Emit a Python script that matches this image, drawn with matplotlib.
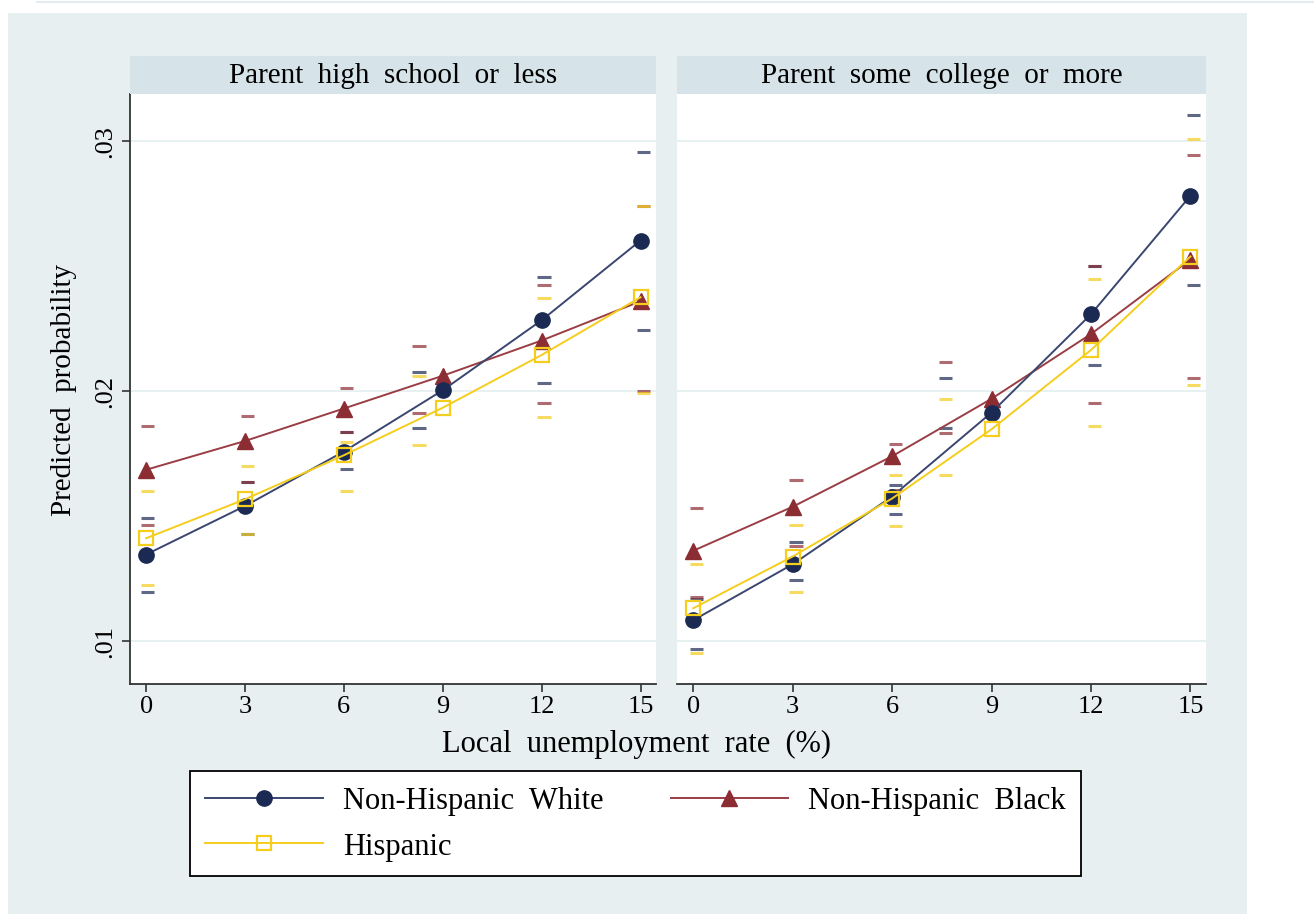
import numpy as np
import matplotlib
matplotlib.use("Agg")
from matplotlib import pyplot as plt
from matplotlib.patches import Rectangle

plt.rcParams['font.family'] = ['Liberation Serif', 'DejaVu Serif']

# data
rate = [0, 3, 6, 9, 12, 15]
panels = ["Parent  high  school  or  less", "Parent  some  college  or  more"]
groups = ["Non-Hispanic  White", "Non-Hispanic  Black", "Hispanic"]

# means, one list per group, for each panel
white_hs = [0.01346, 0.01540, 0.01758, 0.02003, 0.02283, 0.02602]
black_hs = [0.01685, 0.01800, 0.01930, 0.02061, 0.02202, 0.02359]
hisp_hs = [0.01411, 0.01567, 0.01743, 0.01933, 0.02144, 0.02375]
white_col = [0.01083, 0.01307, 0.01578, 0.01914, 0.02307, 0.02781]
black_col = [0.01361, 0.01537, 0.01739, 0.01969, 0.02228, 0.02526]
hisp_col = [0.01131, 0.01338, 0.01570, 0.01847, 0.02164, 0.02538]

# confidence interval caps (upper / lower)
white_hs_hi = [0.01494, 0.01636, 0.01835, 0.02075, 0.02457, 0.02956]
white_hs_lo = [0.01196, 0.01427, 0.01690, 0.01853, 0.02031, 0.02246]
black_hs_hi = [0.01861, 0.01899, 0.02011, 0.02179, 0.02424, 0.02742]
black_hs_lo = [0.01465, 0.01636, 0.01835, 0.01911, 0.01953, 0.02002]
hisp_hs_hi = [0.01602, 0.01702, 0.01797, 0.02060, 0.02372, 0.02742]
hisp_hs_lo = [0.01223, 0.01427, 0.01601, 0.01784, 0.01896, 0.01993]
white_col_hi = [0.01170, 0.01396, 0.01624, 0.02054, 0.02500, 0.03104]
white_col_lo = [0.00968, 0.01243, 0.01509, 0.01853, 0.02104, 0.02425]
black_col_hi = [0.01534, 0.01644, 0.01789, 0.02118, 0.02500, 0.02943]
black_col_lo = [0.01178, 0.01381, 0.01606, 0.01832, 0.01953, 0.02054]
hisp_col_hi = [0.01307, 0.01465, 0.01664, 0.01969, 0.02448, 0.03009]
hisp_col_lo = [0.00953, 0.01196, 0.01460, 0.01664, 0.01861, 0.02026]

# where the caps sit on the x axis (the original plot has them shifted)
cap_x_hs = [0.05, 3.07, 6.07, 8.28, 12.07, 15.08]
cap_x_col = [0.09, 3.1, 6.1, 7.6, 12.1, 15.1]

colors = ['#1b2a52', '#8c2d33', '#f5cd1c']
bg = '#e8eff1'
strip_bg = '#d6e3e8'

W, H = 1314, 920
fig = plt.figure(figsize=(W / 100, H / 100), dpi=100)
fig.patch.set_facecolor('white')

def px(x0, y0, x1, y1):
    # pixel box (top-left origin) -> figure fraction rect
    return [x0 / W, 1 - y1 / H, (x1 - x0) / W, (y1 - y0) / H]

# background panel
fig.patches.append(Rectangle((8 / W, 1 - 915 / H), (1247 - 8) / W, (915 - 14) / H,
                             transform=fig.transFigure, facecolor=bg, edgecolor='none', zorder=-5))
fig.lines.append(plt.Line2D([37 / W, 1], [1 - 3 / H, 1 - 3 / H], transform=fig.transFigure,
                            color='#e3ecee', lw=1.5, zorder=-5))

panel_data = [
    (white_hs, black_hs, hisp_hs, white_hs_hi, white_hs_lo, black_hs_hi, black_hs_lo,
     hisp_hs_hi, hisp_hs_lo, cap_x_hs),
    (white_col, black_col, hisp_col, white_col_hi, white_col_lo, black_col_hi, black_col_lo,
     hisp_col_hi, hisp_col_lo, cap_x_col),
]
boxes = [(130, 95, 656, 685), (677, 95, 1206, 685)]

handles = []
for i, (box, title, pdat) in enumerate(zip(boxes, panels, panel_data)):
    wm, bm, hm, whi, wlo, bhi, blo, hhi, hlo, cx = pdat
    ax = fig.add_axes(px(*box))
    ax.set_xlim(-0.49, 15.47)
    ax.set_ylim(0.00828, 0.03188)
    ax.set_facecolor('white')

    for yv in [0.01, 0.02, 0.03]:
        ax.axhline(yv, color='#e6f0f1', lw=1.3, zorder=1)

    cx = np.array(cx)
    for hi, lo, c in [(whi, wlo, colors[0]), (bhi, blo, colors[1]), (hhi, hlo, colors[2])]:
        ax.hlines(hi, cx - 0.2, cx + 0.2, color=c, lw=2.2, alpha=0.7, zorder=2)
        ax.hlines(lo, cx - 0.2, cx + 0.2, color=c, lw=2.2, alpha=0.7, zorder=2)

    l1, = ax.plot(rate, wm, color='#3a4670', lw=1.4, marker='o', ms=11,
                  mfc=colors[0], mec=colors[0], zorder=4)
    l2, = ax.plot(rate, bm, color='#9a3d44', lw=1.4, marker='^', ms=12,
                  mfc=colors[1], mec=colors[1], zorder=3)
    l3, = ax.plot(rate, hm, color=colors[2], lw=1.4, marker='s', ms=10,
                  mfc='none', mec=colors[2], mew=1.6, zorder=5)
    handles = [l1, l2, l3]

    ax.set_xticks(rate)
    ax.set_xticklabels([str(r) for r in rate], fontsize=19)
    ax.tick_params(axis='x', length=6, width=1.2, color='#333333', pad=2)
    for s in ['top', 'right']:
        ax.spines[s].set_visible(False)
    ax.spines['bottom'].set_color('#333333')
    ax.spines['bottom'].set_linewidth(1.3)
    if i == 0:
        ax.set_yticks([0.01, 0.02, 0.03])
        ax.set_yticklabels(['.01', '.02', '.03'], fontsize=19, rotation=90, va='center')
        ax.tick_params(axis='y', length=6, width=1.2, color='#333333', pad=4)
        ax.spines['left'].set_color('#333333')
        ax.spines['left'].set_linewidth(1.3)
        ax.set_ylabel('Predicted  probability', fontsize=21, labelpad=12)
    else:
        ax.set_yticks([])
        ax.spines['left'].set_visible(False)

    # strip header
    sx = fig.add_axes(px(box[0], 57, box[2], 95))
    sx.set_facecolor(strip_bg)
    sx.set_xticks([])
    sx.set_yticks([])
    for s in sx.spines.values():
        s.set_visible(False)
    sx.text(0.5, 0.5, title, ha='center', va='center', fontsize=21, transform=sx.transAxes)

fig.text(636 / W, 1 - 744 / H, 'Local  unemployment  rate  (%)', ha='center', va='center',
         fontsize=22)

# column-major fill: White, Hispanic in first column, Black in second
leg = fig.legend([handles[0], handles[2], handles[1]], [groups[0], groups[2], groups[1]],
                 loc='upper left', bbox_to_anchor=(190 / W, 1 - 772 / H), borderaxespad=0,
                 ncol=2, fontsize=22, frameon=True, fancybox=False, edgecolor='black',
                 framealpha=1, handlelength=3.85, handletextpad=0.65, columnspacing=2.2,
                 borderpad=0.5, labelspacing=0.55, markerscale=1.0)
leg.get_frame().set_linewidth(1.3)
leg.get_frame().set_facecolor('white')

fig.savefig('out.png', dpi=100)
